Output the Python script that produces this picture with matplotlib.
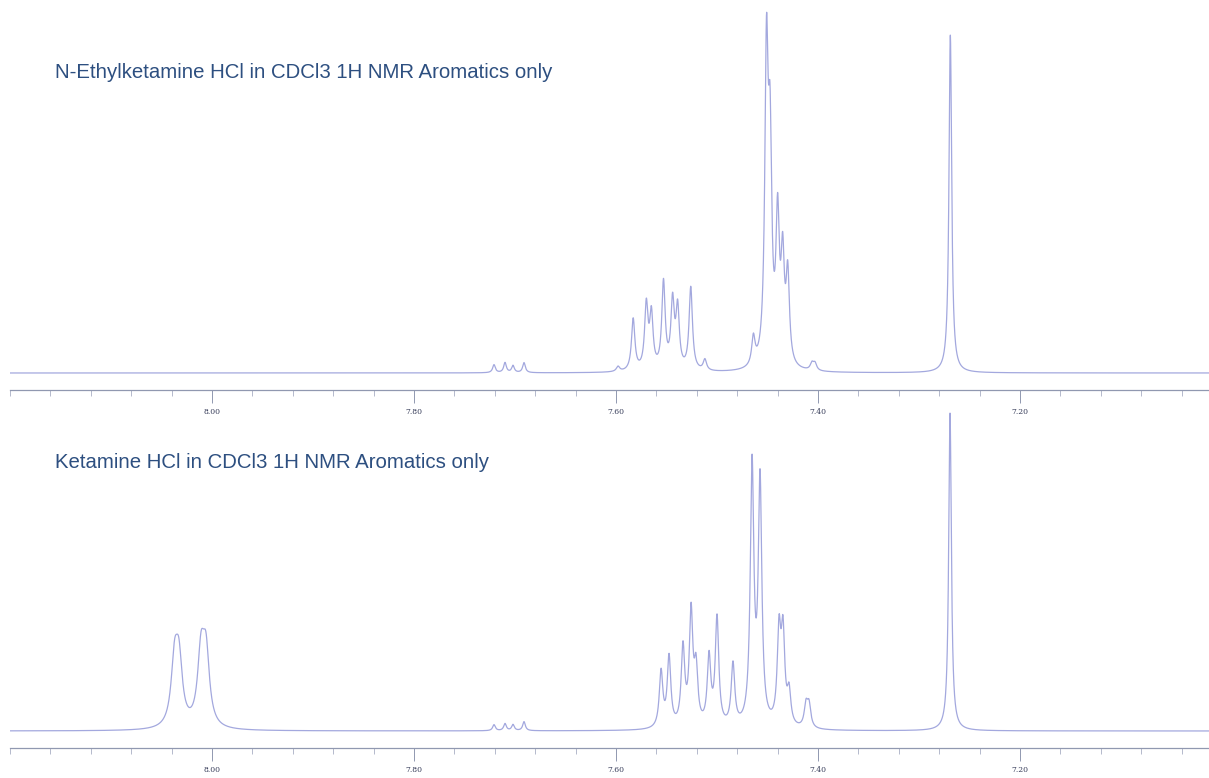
import numpy as np
import matplotlib.pyplot as plt
from matplotlib.ticker import MultipleLocator

# peak lists: shift (ppm), height (relative), half width (ppm)
ek_ppm = [7.7208, 7.7099, 7.7020, 7.6911, 7.598, 7.583, 7.570, 7.565, 7.553,
          7.544, 7.539, 7.526, 7.512, 7.464, 7.451, 7.4475, 7.440, 7.435,
          7.430, 7.406, 7.403, 7.269]
ek_height = [8, 10, 7, 10, 5, 52, 64, 54, 87, 66, 60, 83, 11, 28, 302, 200,
             140, 100, 88, 7, 7, 338]
ek_width = [0.0016] * 4 + [0.002] * 17 + [0.0016]

ket_ppm = [8.0371, 8.0327, 8.0109, 8.0059, 7.7208, 7.7099, 7.7020, 7.6911,
           7.5554, 7.5475, 7.5337, 7.5257, 7.5208, 7.5079, 7.5000, 7.4842,
           7.4653, 7.4574, 7.4386, 7.4347, 7.4287, 7.4119, 7.4089, 7.2693]
ket_height = [61, 61, 69, 69, 6, 7, 6, 9, 56, 70, 78, 112, 54, 68, 108, 62,
              258, 242, 90, 88, 32, 22, 22, 318]
ket_width = [0.004] * 4 + [0.0016] * 4 + [0.0021] * 15 + [0.0016]

titles = ['N-Ethylketamine HCl in CDCl3 1H NMR Aromatics only',
          'Ketamine HCl in CDCl3 1H NMR Aromatics only']
major_ticks = [8.00, 7.80, 7.60, 7.40, 7.20]
major_labels = ['8.00', '7.80', '7.60', '7.40', '7.20']

W, H = 1209, 778
fig = plt.figure(figsize=(W / 100, H / 100), dpi=100)


def px_axes(x0, y_top, x1, y_bot):
    return fig.add_axes([x0 / W, 1 - y_bot / H, (x1 - x0) / W, (y_bot - y_top) / H])


def spectrum(grid, ppm, height, width):
    y = np.zeros_like(grid)
    for p, h, w in zip(ppm, height, width):
        y += h / (1 + ((grid - p) / w) ** 2)
    return y


grid = np.linspace(8.21, 7.0, 12000)

ax_top = px_axes(10, 0, 1209, 390)
ax_bot = px_axes(10, 395, 1209, 748)

for ax, ppm, height, width, ylim in [
        (ax_top, ek_ppm, ek_height, ek_width, (-17, 373)),
        (ax_bot, ket_ppm, ket_height, ket_width, (-17, 336))]:
    ax.plot(grid, spectrum(grid, ppm, height, width), color='#a3a8de', lw=0.9)
    ax.set_xlim(8.20, 7.0129)
    ax.set_ylim(*ylim)
    for s in ['top', 'left', 'right']:
        ax.spines[s].set_visible(False)
    ax.spines['bottom'].set_color('#9098b0')
    ax.spines['bottom'].set_linewidth(0.9)
    ax.set_yticks([])
    ax.set_xticks(major_ticks)
    ax.set_xticklabels(major_labels, fontsize=5.5, family='DejaVu Serif',
                       color='#353b58')
    ax.xaxis.set_minor_locator(MultipleLocator(0.04))
    ax.tick_params(axis='x', which='major', length=9, width=0.7,
                   color='#9098b0', pad=4)
    ax.tick_params(axis='x', which='minor', length=4, width=0.6,
                   color='#a8aec4')
    ax.patch.set_alpha(0)

fig.text(55 / W, 1 - 73 / H, titles[0], ha='left', va='center', fontsize=14.7,
         color='#2d4f80', family='Liberation Sans')
fig.text(55 / W, 1 - 462 / H, titles[1], ha='left', va='center', fontsize=14.7,
         color='#2d4f80', family='Liberation Sans')

fig.savefig('out.png', dpi=100)
